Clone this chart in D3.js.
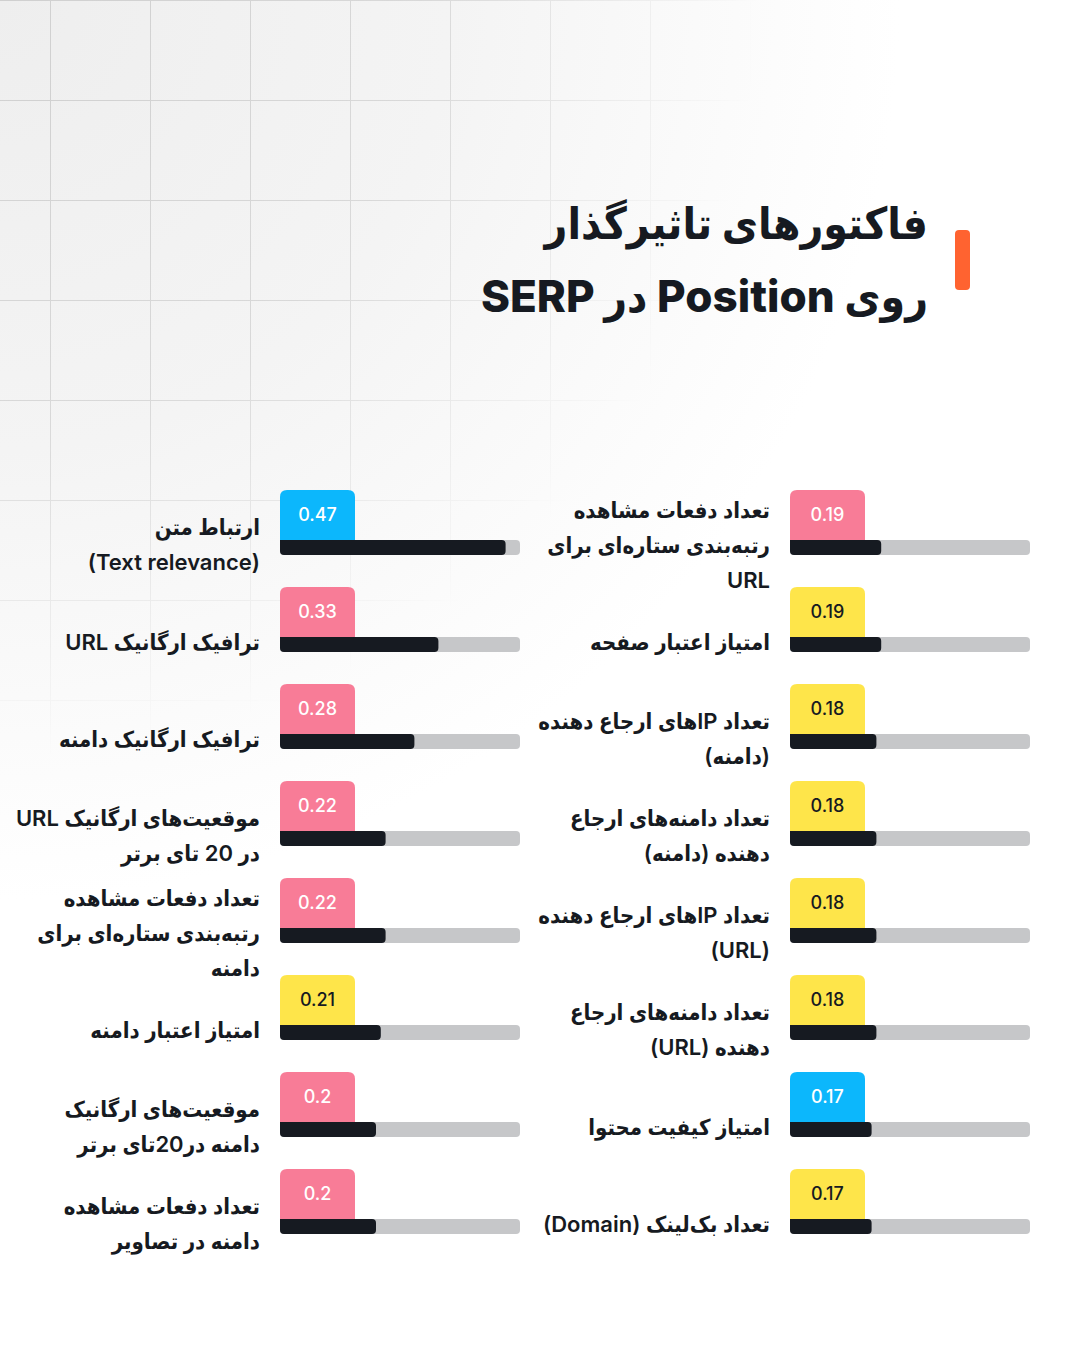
<!DOCTYPE html>
<html><head><meta charset="utf-8">
<script src="https://cdn.jsdelivr.net/npm/d3@7"></script>
<style>
html,body{margin:0;padding:0;background:#fff;}
svg{display:block;}
</style></head>
<body>
<svg id="chart" width="1080" height="1350"></svg>
<script>
// ---- data ----
const titleLines = ["فاکتورهای تاثیرگذار", "روی Position در SERP"];

const leftLabels = [
  ["ارتباط متن", "(Text relevance)"],
  ["ترافیک ارگانیک URL"],
  ["ترافیک ارگانیک دامنه"],
  ["موقعیت‌های ارگانیک URL", "در 20 تای برتر"],
  ["تعداد دفعات مشاهده", "رتبه‌بندی ستاره‌ای برای", "دامنه"],
  ["امتیاز اعتبار دامنه"],
  ["موقعیت‌های ارگانیک", "دامنه در20تای برتر"],
  ["تعداد دفعات مشاهده", "دامنه در تصاویر"]
];
const leftValues = [0.47, 0.33, 0.28, 0.22, 0.22, 0.21, 0.2, 0.2];
const leftValueLabels = ["0.47", "0.33", "0.28", "0.22", "0.22", "0.21", "0.2", "0.2"];
const leftColors = ["blue", "pink", "pink", "pink", "pink", "yellow", "pink", "pink"];

const rightLabels = [
  ["تعداد دفعات مشاهده", "رتبه‌بندی ستاره‌ای برای", "URL"],
  ["امتیاز اعتبار صفحه"],
  ["تعداد IPهای  ارجاع دهنده", "(دامنه)"],
  ["تعداد دامنه‌های ارجاع", "دهنده (دامنه)"],
  ["تعداد IPهای ارجاع دهنده", "(URL)"],
  ["تعداد دامنه‌های ارجاع", "دهنده (URL)"],
  ["امتیاز کیفیت محتوا"],
  ["تعداد بک‌لینک (Domain)"]
];
const rightValues = [0.19, 0.19, 0.18, 0.18, 0.18, 0.18, 0.17, 0.17];
const rightValueLabels = ["0.19", "0.19", "0.18", "0.18", "0.18", "0.18", "0.17", "0.17"];
const rightColors = ["pink", "yellow", "yellow", "yellow", "yellow", "yellow", "blue", "yellow"];

// ---- style ----
const palette = { blue: "#0cb7fc", pink: "#f87c97", yellow: "#fee54a" };
const badgeText = { blue: "#ffffff", pink: "#ffffff", yellow: "#161a21" };
const dark = "#161a21";
const track = "#c6c7c9";
const FONT = "Inter, 'DejaVu Sans', 'Noto Sans', sans-serif";
const LABEL_FONT = "Inter, 'DejaVu Sans Condensed', 'DejaVu Sans', sans-serif";
const TITLE_FONT = "Inter, 'DejaVu Sans Condensed', 'DejaVu Sans', sans-serif";

const svg = d3.select("#chart");
const W = 1080, H = 1350;
const defs = svg.append("defs");

// background gradient
const bg = defs.append("radialGradient").attr("id", "bgGrad")
  .attr("gradientUnits", "userSpaceOnUse")
  .attr("cx", 0).attr("cy", 0).attr("r", 900);
bg.append("stop").attr("offset", "0%").attr("stop-color", "#eeeeee");
bg.append("stop").attr("offset", "50%").attr("stop-color", "#f4f4f4");
bg.append("stop").attr("offset", "100%").attr("stop-color", "#ffffff");
svg.append("rect").attr("width", W).attr("height", H).attr("fill", "url(#bgGrad)");

// grid fade mask
const mg = defs.append("radialGradient").attr("id", "maskGrad")
  .attr("gradientUnits", "userSpaceOnUse")
  .attr("cx", 0).attr("cy", 0).attr("r", 760);
mg.append("stop").attr("offset", "0%").attr("stop-color", "#fff").attr("stop-opacity", 1);
mg.append("stop").attr("offset", "55%").attr("stop-color", "#fff").attr("stop-opacity", 0.75);
mg.append("stop").attr("offset", "100%").attr("stop-color", "#fff").attr("stop-opacity", 0);
defs.append("mask").attr("id", "gridMask")
  .append("rect").attr("width", W).attr("height", H).attr("fill", "url(#maskGrad)");

const grid = svg.append("g").attr("mask", "url(#gridMask)")
  .attr("stroke", "#cfcfcf").attr("stroke-width", 1);
grid.selectAll("line.v").data(d3.range(50, 1080, 100)).join("line")
  .attr("x1", d => d + 0.5).attr("x2", d => d + 0.5).attr("y1", 0).attr("y2", H);
grid.selectAll("line.h").data(d3.range(0, 1350, 100)).join("line")
  .attr("y1", d => d + 0.5).attr("y2", d => d + 0.5).attr("x1", 0).attr("x2", W);

// title
svg.append("rect").attr("x", 955).attr("y", 230).attr("width", 15).attr("height", 60)
  .attr("rx", 4).attr("fill", "#ff6330");
svg.append("g").selectAll("text").data(titleLines).join("text")
  .attr("x", 928).attr("y", (d, i) => 239 + i * 73)
  .attr("direction", "rtl").attr("text-anchor", "start")
  .attr("font-family", TITLE_FONT).attr("font-weight", 800).attr("font-size", 44)
  .attr("fill", dark).text(d => d);

// ---- scales ----
const x = d3.scaleLinear().domain([0, 0.5]).range([0, 240]);
const rowY = d3.scaleLinear().domain([0, 1]).range([490, 587]);
const badgeW = 75, badgeH = 50, barH = 15, lineH = 35;

function badgePath(x0, y0, w, h, r) {
  return `M${x0},${y0 + h}V${y0 + r}Q${x0},${y0} ${x0 + r},${y0}H${x0 + w - r}Q${x0 + w},${y0} ${x0 + w},${y0 + r}V${y0 + h}Z`;
}

function drawColumn(labels, values, valueLabels, colors, barX, labelX) {
  const data = values.map((v, i) => ({ v, lab: valueLabels[i], c: colors[i], lines: labels[i], i }));
  const g = svg.append("g").selectAll("g").data(data).join("g");

  g.append("path")
    .attr("d", d => badgePath(barX, rowY(d.i), badgeW, badgeH, 7))
    .attr("fill", d => palette[d.c]);
  g.append("text")
    .attr("x", barX + badgeW / 2).attr("y", d => rowY(d.i) + badgeH / 2 + 6)
    .attr("text-anchor", "middle")
    .attr("font-family", FONT).attr("font-weight", 500).attr("font-size", 18)
    .attr("fill", d => badgeText[d.c]).text(d => d.lab);

  g.append("rect")
    .attr("x", barX).attr("y", d => rowY(d.i) + badgeH)
    .attr("width", x(0.5)).attr("height", barH).attr("rx", 4).attr("fill", track);
  g.append("path")
    .attr("d", d => {
      const x0 = barX, y0 = rowY(d.i) + badgeH, w = x(d.v), h = barH, r = 4;
      return `M${x0},${y0}H${x0 + w - r}Q${x0 + w},${y0} ${x0 + w},${y0 + r}V${y0 + h - r}Q${x0 + w},${y0 + h} ${x0 + w - r},${y0 + h}H${x0 + r}Q${x0},${y0 + h} ${x0},${y0 + h - r}Z`;
    })
    .attr("fill", dark);

  const t = g.append("text")
    .attr("direction", "rtl").attr("text-anchor", "start")
    .attr("font-family", LABEL_FONT).attr("font-weight", 600).attr("font-size", 22)
    .attr("fill", dark);
  t.selectAll("tspan").data(d => d.lines.map((s, k) => ({ s, k, n: d.lines.length, i: d.i })))
    .join("tspan")
    .attr("x", labelX)
    .attr("y", e => rowY(e.i) + badgeH + barH / 2 + (e.k - (e.n - 1) / 2) * lineH + 5)
    .text(e => e.s);
}

drawColumn(leftLabels, leftValues, leftValueLabels, leftColors, 280, 260);
drawColumn(rightLabels, rightValues, rightValueLabels, rightColors, 790, 770);
</script>
</body></html>
